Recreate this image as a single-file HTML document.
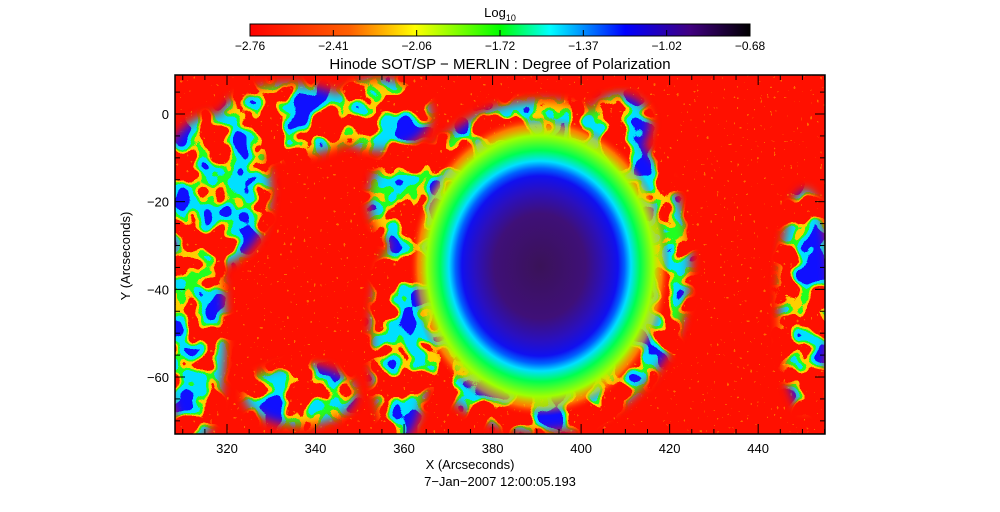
<!DOCTYPE html>
<html><head><meta charset="utf-8"><style>
html,body{margin:0;padding:0;background:#fff;}
svg{display:block;font-family:"Liberation Sans",sans-serif;}
</style></head><body>
<svg id="chart" width="1000" height="512" viewBox="0 0 1000 512">
<defs>
 <linearGradient id="cbar" x1="0" x2="1" y1="0" y2="0">
  <stop offset="0" stop-color="#ff0000"/><stop offset="0.2" stop-color="#ff6000"/>
  <stop offset="0.33" stop-color="#ffff00"/><stop offset="0.5" stop-color="#00ff00"/>
  <stop offset="0.6" stop-color="#00ffff"/><stop offset="0.75" stop-color="#0000ff"/>
  <stop offset="0.88" stop-color="#400080"/><stop offset="1" stop-color="#000000"/>
 </linearGradient>
 <radialGradient id="spot" cx="0.5" cy="0.5" r="0.5">
  <stop offset="0" stop-color="#3a1258"/><stop offset="0.35" stop-color="#3f1078"/>
  <stop offset="0.5" stop-color="#2a10c0"/><stop offset="0.6" stop-color="#1010f0"/>
  <stop offset="0.65" stop-color="#0060ff"/><stop offset="0.7" stop-color="#00e0ff"/>
  <stop offset="0.77" stop-color="#00ff50"/><stop offset="0.87" stop-color="#a0ff00"/>
  <stop offset="0.94" stop-color="#ffc000" stop-opacity="0.6"/><stop offset="1" stop-color="#ff2000" stop-opacity="0"/>
 </radialGradient>
 <filter id="net" x="0" y="0" width="1" height="1" color-interpolation-filters="sRGB">
  <feTurbulence type="fractalNoise" baseFrequency="0.035" numOctaves="2" seed="4" result="t"/>
  <feColorMatrix in="t" type="matrix" values="0 0 0 0 0  0 0 0 0 0  0 0 0 0 0  2.2 0 0 0 -0.6" result="a"/>
  <feComponentTransfer in="a" result="yl"><feFuncA type="discrete" tableValues="0 0 0 0 1 1 1 1 1 1"/></feComponentTransfer>
  <feComponentTransfer in="a" result="gr"><feFuncA type="discrete" tableValues="0 0 0 0 0 1 1 1 1 1"/></feComponentTransfer>
  <feComponentTransfer in="a" result="cy"><feFuncA type="discrete" tableValues="0 0 0 0 0 0 1 1 1 1"/></feComponentTransfer>
  <feComponentTransfer in="a" result="bl"><feFuncA type="discrete" tableValues="0 0 0 0 0 0 0 0 1 1"/></feComponentTransfer>
  <feFlood flood-color="#ffd000"/><feComposite in2="yl" operator="in" result="c1"/>
  <feFlood flood-color="#20ff20"/><feComposite in2="gr" operator="in" result="c2"/>
  <feFlood flood-color="#00e0ff"/><feComposite in2="cy" operator="in" result="c3"/>
  <feFlood flood-color="#1010ff"/><feComposite in2="bl" operator="in" result="c4"/>
  <feMerge><feMergeNode in="c1"/><feMergeNode in="c2"/><feMergeNode in="c3"/><feMergeNode in="c4"/></feMerge>
 </filter>
 <filter id="speck" x="0" y="0" width="1" height="1" color-interpolation-filters="sRGB">
  <feTurbulence type="fractalNoise" baseFrequency="0.3" numOctaves="1" seed="9" result="t"/>
  <feColorMatrix in="t" type="matrix" values="0 0 0 0 0  0 0 0 0 0  0 0 0 0 0  1.5 0 0 0 -0.42" result="a"/>
  <feComponentTransfer in="a" result="b"><feFuncA type="discrete" tableValues="0 0 0.7"/></feComponentTransfer>
  <feFlood flood-color="#ff9000"/><feComposite in2="b" operator="in"/>
 </filter>
 <filter id="blur8"><feGaussianBlur stdDeviation="5"/></filter>
 <mask id="netMask"><g filter="url(#blur8)" fill="#fff">
  <ellipse cx="215" cy="190" rx="55" ry="75"/>
  <ellipse cx="195" cy="330" rx="30" ry="110"/>
  <ellipse cx="290" cy="120" rx="70" ry="35"/>
  <ellipse cx="380" cy="115" rx="50" ry="35"/>
  <ellipse cx="400" cy="340" rx="28" ry="100"/>
  <ellipse cx="410" cy="200" rx="40" ry="50"/>
  <ellipse cx="620" cy="125" rx="30" ry="30"/>
  <ellipse cx="805" cy="300" rx="25" ry="110"/>
  <ellipse cx="300" cy="395" rx="55" ry="30"/>
  <ellipse cx="540" cy="266" rx="150" ry="165"/>
 </g></mask>
 <clipPath id="plotClip"><rect x="175" y="75" width="650" height="359"/></clipPath>
</defs>

<g>
 <text x="500" y="17" font-size="13" text-anchor="middle">Log<tspan font-size="9" dy="4">10</tspan></text>
 <rect x="250" y="24" width="500" height="12" fill="url(#cbar)" stroke="#000"/>
 <g id="cbticks"></g>
</g>
<text x="500" y="69" font-size="15" text-anchor="middle">Hinode SOT/SP − MERLIN : Degree of Polarization</text>

<g clip-path="url(#plotClip)">
 <rect x="175" y="75" width="650" height="359" fill="#ff1000"/>
 <rect x="175" y="75" width="650" height="359" fill="#fff" filter="url(#speck)"/>
 <g mask="url(#netMask)">
  <rect x="175" y="75" width="650" height="359" fill="#fff" filter="url(#net)"/>
 </g>
 <ellipse cx="540" cy="266" rx="130" ry="150" fill="url(#spot)"/>
</g>
<rect x="175" y="75" width="650" height="359" fill="none" stroke="#000" stroke-width="1.5"/>
<g id="axes"></g>
<text x="470" y="469" font-size="13" text-anchor="middle">X (Arcseconds)</text>
<text x="130" y="256" font-size="13" text-anchor="middle" transform="rotate(-90 130 256)">Y (Arcseconds)</text>
<text x="500" y="486" font-size="13" text-anchor="middle">7−Jan−2007 12:00:05.193</text>
</svg>
<script>
const cbLabels=["−2.76","−2.41","−2.06","−1.72","−1.37","−1.02","−0.68"];
const xTicks=[320,340,360,380,400,420,440];
const yTicks=[0,-20,-40,-60];
const xDomain=[308.25,455.1], yDomain=[8.9,-73];
const NS="http://www.w3.org/2000/svg";
const X=v=>175+(v-xDomain[0])/(xDomain[1]-xDomain[0])*650;
const Y=v=>75+(v-yDomain[0])/(yDomain[1]-yDomain[0])*359;
function mk(tag,attrs,parent,txt){const e=document.createElementNS(NS,tag);for(const k in attrs)e.setAttribute(k,attrs[k]);if(txt)e.textContent=txt;parent.appendChild(e);return e;}
const cb=document.getElementById('cbticks');
cbLabels.forEach((l,i)=>{const x=250+i*500/(cbLabels.length-1);
 const t=mk('line',{x1:x,x2:x,y1:30,y2:36,stroke:'#000'},cb);
 
 
 const tx=mk('text',{x:x,y:50,'font-size':12,'text-anchor':'middle'},cb,l);
 
 });
const ax=document.getElementById('axes');
for(let v=310;v<=455;v+=5){const x=X(v);const big=v%20===0;const L=big?10:5;
 const a=mk('line',{x1:x,x2:x,y1:434,y2:434-L,stroke:'#000'},ax);
 
 
 const b=mk('line',{x1:x,x2:x,y1:75,y2:75+L,stroke:'#000'},ax);
 
 }
for(let v=5;v>=-70;v-=5){const y=Y(v);const big=v%20===0;const L=big?10:5;
 const a=mk('line',{x1:175,x2:175+L,y1:y,y2:y,stroke:'#000'},ax);
 
 
 const b=mk('line',{x1:825,x2:825-L,y1:y,y2:y,stroke:'#000'},ax);
 
 }
xTicks.forEach(v=>{const t=mk('text',{x:X(v),y:453,'font-size':13,'text-anchor':'middle'},ax,String(v));
 
 });
yTicks.forEach(v=>{const t=mk('text',{x:169,y:Y(v)+5,'font-size':13,'text-anchor':'end'},ax,v===0?'0':'−'+Math.abs(v));
 
 });
</script>
</body></html>
